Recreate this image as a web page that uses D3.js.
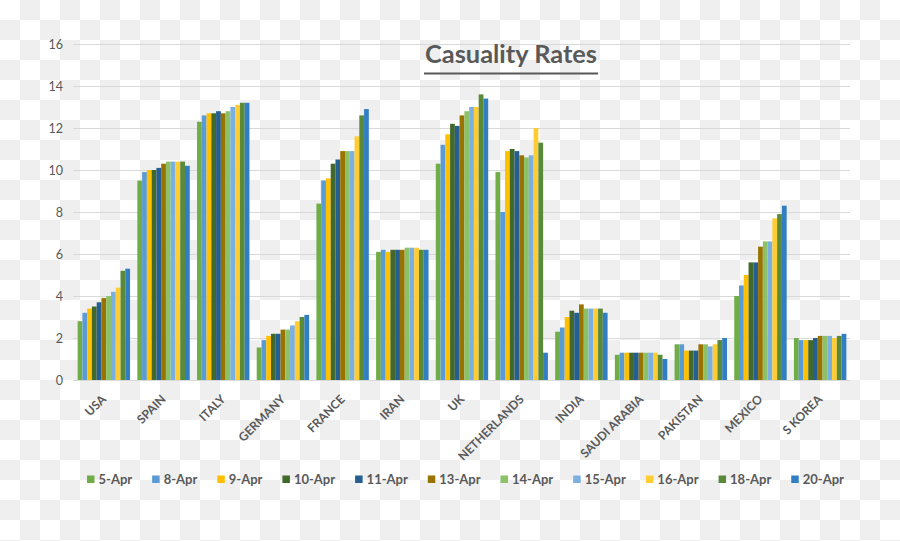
<!DOCTYPE html>
<html>
<head>
<meta charset="utf-8">
<script src="https://cdn.jsdelivr.net/npm/d3@7"></script>
<style>
  html, body { margin: 0; padding: 0; background: #fff; }
  svg { display: block; }
</style>
</head>
<body>
<svg id="chart" width="900" height="541"></svg>
<script>
const countries = ["USA","SPAIN","ITALY","GERMANY","FRANCE","IRAN","UK","NETHERLANDS","INDIA","SAUDI ARABIA","PAKISTAN","MEXICO","S KOREA"];
const dates = ["5-Apr","8-Apr","9-Apr","10-Apr","11-Apr","13-Apr","14-Apr","15-Apr","16-Apr","18-Apr","20-Apr"];
const colors = ["#70AD47","#5B9BD5","#FFC000","#43682B","#255F92","#997300","#8CC168","#7BB0DE","#FFCD33","#598A39","#317EC2"];
// values per country, in order of dates
const USA          = [2.8, 3.2, 3.4, 3.5, 3.7, 3.9, 4.0, 4.2, 4.4, 5.2, 5.3];
const SPAIN        = [9.5, 9.9, 10.0, 10.0, 10.1, 10.3, 10.4, 10.4, 10.4, 10.4, 10.2];
const ITALY        = [12.3, 12.6, 12.7, 12.7, 12.8, 12.7, 12.8, 13.0, 13.1, 13.2, 13.2];
const GERMANY      = [1.55, 1.9, 2.1, 2.2, 2.2, 2.4, 2.4, 2.6, 2.8, 3.0, 3.1];
const FRANCE       = [8.4, 9.5, 9.6, 10.3, 10.5, 10.9, 10.9, 10.9, 11.6, 12.6, 12.9];
const IRAN         = [6.1, 6.2, 6.1, 6.2, 6.2, 6.2, 6.3, 6.3, 6.3, 6.2, 6.2];
const UK           = [10.3, 11.2, 11.7, 12.2, 12.1, 12.6, 12.8, 13.0, 13.0, 13.6, 13.4];
const NETHERLANDS  = [9.9, 8.0, 10.9, 11.0, 10.9, 10.7, 10.6, 10.7, 12.0, 11.3, 1.3];
const INDIA        = [2.3, 2.5, 3.0, 3.3, 3.2, 3.6, 3.4, 3.4, 3.4, 3.4, 3.2];
const SAUDI_ARABIA = [1.2, 1.3, 1.3, 1.3, 1.3, 1.3, 1.3, 1.3, 1.3, 1.2, 1.0];
const PAKISTAN     = [1.7, 1.7, 1.4, 1.4, 1.4, 1.7, 1.7, 1.6, 1.7, 1.9, 2.0];
const MEXICO       = [4.0, 4.5, 5.0, 5.6, 5.6, 6.35, 6.6, 6.6, 7.7, 7.9, 8.3];
const S_KOREA      = [2.0, 1.9, 1.9, 1.9, 2.0, 2.1, 2.1, 2.1, 2.0, 2.1, 2.2];
const yTicks = [0, 2, 4, 6, 8, 10, 12, 14, 16];
const title = "Casuality Rates";

const seriesValues = [USA, SPAIN, ITALY, GERMANY, FRANCE, IRAN, UK, NETHERLANDS, INDIA, SAUDI_ARABIA, PAKISTAN, MEXICO, S_KOREA];

const svg = d3.select("#chart");
const W = 900, H = 541;

// checkerboard background (transparent-image look)
const defs = svg.append("defs");
const pat = defs.append("pattern").attr("id", "checker")
  .attr("width", 40).attr("height", 40).attr("patternUnits", "userSpaceOnUse");
pat.append("rect").attr("width", 40).attr("height", 40).attr("fill", "#ffffff");
pat.append("rect").attr("x", 20).attr("y", 0).attr("width", 20).attr("height", 20).attr("fill", "#efefef");
pat.append("rect").attr("x", 0).attr("y", 20).attr("width", 20).attr("height", 20).attr("fill", "#efefef");
svg.append("rect").attr("width", W).attr("height", H).attr("fill", "url(#checker)");

const textColor = "#595959";
const gridColor = "#d9d9d9";

const x0 = d3.scaleBand().domain(countries).range([74, 850]).paddingInner(0.122).paddingOuter(0.061);
const x1 = d3.scaleBand().domain(dates).range([0, x0.bandwidth()]).padding(0);
const y = d3.scaleLinear().domain([0, 16]).range([380, 44]);
const color = d3.scaleOrdinal().domain(dates).range(colors);

// gridlines
svg.append("g").selectAll("line").data(yTicks).join("line")
  .attr("x1", 73).attr("x2", 850)
  .attr("y1", d => Math.round(y(d)) + 0.5).attr("y2", d => Math.round(y(d)) + 0.5)
  .attr("stroke", gridColor).attr("stroke-width", 1);

// y axis labels
svg.append("g").selectAll("text").data(yTicks).join("text")
  .attr("x", 63).attr("y", d => y(d) + 4.5)
  .attr("text-anchor", "end")
  .attr("font-family", "Lato, 'Open Sans', sans-serif")
  .attr("font-size", 12.5)
  .attr("fill", textColor)
  .text(d => d);

// bars
const groups = svg.append("g").selectAll("g").data(countries).join("g")
  .attr("transform", d => `translate(${x0(d)},0)`);
groups.selectAll("rect")
  .data((c, i) => dates.map((dt, j) => ({ date: dt, value: seriesValues[i][j] })))
  .join("rect")
  .attr("x", d => x1(d.date))
  .attr("width", x1.bandwidth())
  .attr("y", d => y(d.value))
  .attr("height", d => y(0) - y(d.value))
  .attr("fill", d => color(d.date));

// category labels
svg.append("g").selectAll("text").data(countries).join("text")
  .attr("transform", d => `translate(${x0(d) + x0.bandwidth() / 2 + 3},400) rotate(-45)`)
  .attr("text-anchor", "end")
  .attr("font-family", "Lato, 'Open Sans', sans-serif")
  .attr("font-weight", 700)
  .attr("font-size", 12)
  .attr("fill", textColor)
  .text(d => d);

// title
const t = svg.append("text")
  .attr("x", 511).attr("y", 63)
  .attr("text-anchor", "middle")
  .attr("font-family", "Lato, 'Open Sans', sans-serif")
  .attr("font-weight", 700)
  .attr("font-size", 25)
  .attr("fill", textColor)
  .attr("textLength", 172)
  .attr("lengthAdjust", "spacingAndGlyphs")
  .text(title);
svg.append("line")
  .attr("x1", 511 - 87).attr("x2", 511 + 87)
  .attr("y1", 73.5).attr("y2", 73.5)
  .attr("stroke", textColor).attr("stroke-width", 1.8);

// legend
const legend = svg.append("g");
let lx = 87;
dates.forEach((dt, i) => {
  legend.append("rect").attr("x", lx).attr("y", 475.5).attr("width", 7.5).attr("height", 7.5).attr("fill", colors[i]);
  const tx = legend.append("text")
    .attr("x", lx + 11.5).attr("y", 483.5)
    .attr("font-family", "Lato, 'Open Sans', sans-serif")
    .attr("font-weight", 700)
    .attr("font-size", 13)
    .attr("fill", textColor)
    .text(dt);
  const w = tx.node().getComputedTextLength();
  lx += 11.5 + w + 20;
});
</script>
</body>
</html>
